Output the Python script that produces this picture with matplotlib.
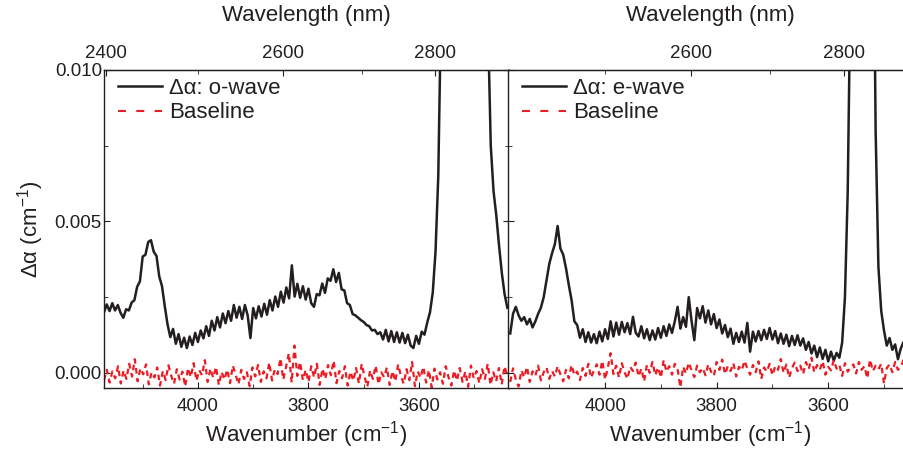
import matplotlib
matplotlib.use("Agg")
import matplotlib.pyplot as plt
import numpy as np
from matplotlib.lines import Line2D
from matplotlib.ticker import FixedLocator, FormatStrFormatter

plt.rcParams['font.family'] = ['Liberation Sans', 'DejaVu Sans']
plt.rcParams['mathtext.fontset'] = 'custom'
plt.rcParams['mathtext.rm'] = 'Liberation Sans'
plt.rcParams['mathtext.it'] = 'Liberation Sans:italic'

# wavenumber range of every trace (cm^-1), evenly sampled
k_start = 4170
k_end = 3440

# all traces in units of 1e-4 cm^-1
o_wave = [20.0, 22.6, 20.4, 23.0, 20.6, 22.4, 19.8, 18.2, 21.0, 20.6,
          23.2, 24.0, 28.4, 30.2, 38.4, 39.0, 43.2, 43.8, 40.0, 38.6,
          31.8, 28.6, 22.0, 16.0, 11.8, 14.5, 9.6, 12.8, 8.6, 11.6,
          8.2, 12.0, 9.2, 13.2, 10.2, 14.0, 11.4, 15.4, 12.2, 17.2,
          14.0, 18.4, 15.0, 19.6, 16.4, 20.4, 17.2, 22.4, 18.2, 21.8,
          17.8, 22.4, 19.0, 11.5, 21.4, 18.0, 22.0, 18.6, 22.8, 19.2,
          24.0, 20.6, 25.2, 21.8, 26.8, 23.2, 28.2, 24.6, 35.5, 25.2,
          29.4, 24.8, 28.6, 24.2, 27.8, 23.0, 21.8, 26.0, 25.6, 29.5,
          26.4, 31.2, 30.4, 34.2, 30.0, 33.0, 27.6, 27.2, 23.0, 22.4,
          19.4, 19.0, 18.2, 17.4, 16.8, 15.8, 15.4, 14.0, 14.2, 12.8,
          13.4, 11.0, 14.2, 10.4, 13.8, 10.2, 13.4, 10.0, 13.2, 9.8,
          12.6, 9.0, 8.2, 12.2, 9.6, 13.6, 12.6, 16.6, 20.0, 26.5,
          40.0, 65.0, 120, 200, 260, 300, 320, 330, 330, 320,
          300, 280, 260, 240, 220, 200, 180, 160, 140, 115,
          75.0, 60.0, 52.0, 42.0, 33.0, 26.0, 21.5]

e_wave = [13.0, 19.5, 21.8, 19.0, 17.2, 18.4, 16.0, 17.8, 15.0, 17.0,
          19.5, 21.5, 25.0, 30.5, 36.0, 39.5, 42.5, 48.5, 41.0, 39.0,
          34.5, 29.0, 24.0, 17.0, 15.8, 11.6, 14.4, 10.2, 13.4, 10.0,
          12.8, 9.8, 13.6, 10.4, 14.4, 11.2, 17.0, 12.0, 16.6, 12.6,
          16.8, 13.4, 16.4, 12.8, 18.5, 13.2, 12.0, 15.4, 11.4, 14.4,
          10.8, 14.0, 11.0, 14.8, 11.6, 15.4, 12.2, 16.0, 13.2, 17.0,
          21.8, 14.6, 18.4, 15.2, 25.0, 17.2, 10.8, 21.4, 18.0, 22.0,
          16.6, 20.6, 16.0, 19.4, 14.8, 17.6, 13.0, 15.8, 11.8, 14.6,
          9.6, 13.2, 10.2, 13.6, 10.0, 16.5, 7.0, 13.6, 10.4, 13.8,
          10.8, 14.2, 11.2, 14.8, 11.0, 13.8, 9.8, 13.0, 9.6, 12.6,
          8.8, 12.2, 9.2, 12.4, 9.0, 11.4, 7.6, 10.2, 6.4, 9.0,
          5.2, 8.4, 4.6, 7.6, 3.8, 7.0, 4.0, 6.6, 5.0, 10.0,
          25.0, 60.0, 130, 220, 280, 320, 340, 340, 320, 260,
          180, 80.0, 35.0, 20.5, 14.0, 9.0, 11.5, 7.6, 9.4, 4.5,
          8.0, 10.2, 6.5, 8.0, 5.5, 7.0, 6.0]

base_o = [-2.5, 1.0, -3.2, 0.5, -1.8, 2.2, -3.5, 0.8, -2.0, 3.0,
          -1.2, 4.5, -2.8, 1.5, -0.5, 2.8, -3.8, 0.2, -1.5, 1.8,
          -4.2, 0.6, -2.4, 2.5, -1.0, -3.6, 1.2, -2.2, 0.4, -4.5,
          1.6, -1.4, 3.2, -2.6, 0.9, -0.8, 4.2, -3.0, 1.4, -1.6,
          2.0, -4.0, 0.3, -2.2, 1.1, -3.4, 2.4, -0.6, -3.8, 1.0,
          -2.0, 0.2, -4.4, 1.8, -1.2, 2.6, -3.0, 0.5, -1.8, 3.4,
          -2.5, 1.2, -0.4, 4.8, -2.2, 2.0, 6.5, -3.2, 9.0, -1.0,
          3.6, -2.4, 1.0, -3.0, 2.2, -1.5, 3.0, -4.0, 1.4, -2.0,
          2.6, -0.8, 4.0, -3.4, 0.6, -1.8, 2.2, -4.2, 0.4, -2.6,
          1.6, -3.5, 3.0, -1.2, -4.6, 0.8, -2.0, 2.4, -3.8, 0.2,
          -1.4, 1.8, -4.0, 0.6, -2.8, 2.8, -1.0, -3.6, 1.2, -2.4,
          3.6, -4.4, 0.5, -1.6, 2.0, -3.2, 0.9, -4.8, 1.4, -2.2,
          0.2, -3.6, 2.2, -1.4, -4.2, 0.8, -2.6, 1.6, -3.0, 0.4,
          -4.6, 2.4, -1.8, 0.6, -3.4, 1.2, -2.0, 3.0, -4.0, 0.2,
          -2.8, 1.6, -3.8, 2.2, -1.0]

base_e = [-3.0, 1.5, -2.2, -4.5, 0.8, -1.5, 2.0, -3.0, 0.5, -1.0,
          2.4, -2.5, 0.2, 1.8, -2.0, 0.6, -1.2, 2.2, -0.5, -2.8,
          1.0, -1.8, 2.6, -0.8, 0.4, -2.4, 1.6, -1.0, 3.0, -1.6,
          0.8, 2.8, -0.6, 4.0, -2.2, 1.8, 6.5, -0.4, 2.4, -1.5,
          3.2, 0.2, -2.0, 2.0, 0.6, 3.4, -1.2, 1.4, -2.8, 2.6,
          0.0, 3.6, -0.8, 1.8, -1.6, 4.2, 0.4, 2.2, -0.6, 3.0,
          1.2, -4.8, 2.0, -0.2, 3.4, 0.8, -1.4, 2.4, 0.2, 1.6,
          -0.8, 2.8, 0.4, -1.0, 3.6, 1.0, 4.4, -0.4, 2.2, 0.6,
          3.2, -1.2, 2.0, 0.8, 4.0, 1.4, -0.6, 2.6, 0.2, 3.8,
          -2.0, 1.8, 0.4, 3.0, -0.8, 2.2, 1.0, 4.6, 0.0, 2.8,
          -1.6, 1.6, 3.4, 0.6, 2.4, -0.4, 3.6, 1.2, 5.0, 0.2,
          2.6, 1.0, 3.8, -0.6, 2.0, 0.8, 4.2, 1.4, 2.6, -1.0,
          3.2, 0.4, 1.8, 2.8, -0.2, 3.6, 1.0, 2.2, -1.8, 4.4,
          0.6, 2.4, 1.2, 3.0, -3.5, 1.6, 2.8, 0.2, 3.6, 1.0,
          2.0, 4.2, 0.8, 2.6, -0.4, 3.2, 1.4]

labels = ['Δα: o-wave', 'Δα: e-wave']
black = '#231f20'
red = '#ec1c24'

fig = plt.figure(figsize=(9.04, 4.51), dpi=100)
ax1 = fig.add_axes([104/904, 63/451, 405/904, 318/451])
ax2 = fig.add_axes([508/904, 63/451, 405/904, 318/451])
ax1.set_xlim(4170, 3437)
ax2.set_xlim(4174, 3448)

for ax, sig, base, lab, majors in [(ax1, o_wave, base_o, labels[0], [2400, 2600, 2800]),
                                   (ax2, e_wave, base_e, labels[1], [2600, 2800])]:
    ks = np.linspace(k_start, k_end, len(sig))
    kb = np.linspace(k_start, k_end, len(base))
    ax.plot(ks, np.array(sig) * 1e-4, color=black, lw=1.8)
    ax.plot(kb, np.array(base) * 1e-4, color=red, lw=1.6, linestyle=(0, (2.5, 2.0)))
    ax.set_ylim(-0.0005, 0.010)
    ax.xaxis.set_major_locator(FixedLocator([4000, 3800, 3600]))
    ax.xaxis.set_minor_locator(FixedLocator([4100, 3900, 3700, 3500]))
    ax.yaxis.set_major_locator(FixedLocator([0.0, 0.005, 0.010]))
    ax.yaxis.set_minor_locator(FixedLocator([0.0025, 0.0075]))
    ax.yaxis.set_major_formatter(FormatStrFormatter('%.3f'))
    ax.tick_params(which='both', direction='in', top=False, right=True,
                   labelsize=13.5, color=black, labelcolor=black)
    ax.tick_params(which='major', length=4.5)
    ax.tick_params(which='minor', length=3)
    ax.tick_params(axis='x', pad=7)
    ax.tick_params(axis='y', pad=1.5)
    for s in ax.spines.values():
        s.set_color(black)
        s.set_linewidth(1.0)
    ax.set_xlabel('Wavenumber (cm$^{-1}$)', fontsize=16, color=black, labelpad=3)

    top = ax.secondary_xaxis('top', functions=(lambda k: 1e7 / k, lambda l: 1e7 / l))
    top.tick_params(which='both', direction='in', labelsize=13.5, pad=6,
                    color=black, labelcolor=black)
    top.tick_params(which='major', length=4.5)
    top.tick_params(which='minor', length=3)
    top.xaxis.set_major_locator(FixedLocator(majors))
    top.xaxis.set_minor_locator(FixedLocator([2500, 2700]))
    top.set_xlabel('Wavelength (nm)', fontsize=16, color=black, labelpad=17)

    handles = [Line2D([], [], color=black, lw=1.8),
               Line2D([], [], color=red, lw=1.5, linestyle=(0, (3.8, 5.0)))]
    leg = ax.legend(handles, [lab, 'Baseline'], loc='upper left',
                    bbox_to_anchor=(0.035, 0.975), frameon=False,
                    fontsize=16, handlelength=1.95, handletextpad=0.35,
                    labelspacing=0.15, borderpad=0, borderaxespad=0)
    for t in leg.get_texts():
        t.set_color(black)

ax1.set_ylabel('Δα (cm$^{-1}$)', fontsize=16, color=black, labelpad=6)
ax2.tick_params(axis='y', labelleft=False)

fig.savefig('out.png', dpi=100)
